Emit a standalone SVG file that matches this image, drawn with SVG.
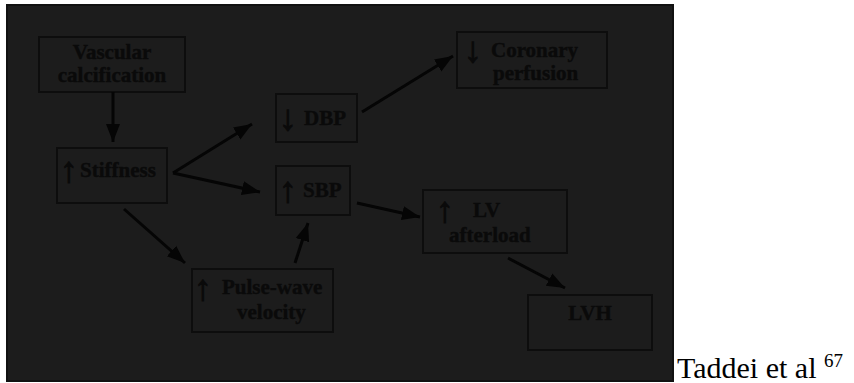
<svg xmlns="http://www.w3.org/2000/svg" width="854" height="383" viewBox="0 0 854 383">
  <style>
    .box { fill: none; stroke: #0d0d0d; stroke-width: 2; }
    .lbl { font-family: "Liberation Serif", "Times New Roman", serif; font-weight: bold; font-size: 21px; fill: #0a0a0a; stroke: #0a0a0a; stroke-width: 0.4; }
    .sym { font-family: "Liberation Serif", "Times New Roman", serif; font-weight: bold; font-size: 36px; fill: #0a0a0a; stroke: #0a0a0a; stroke-width: 1; text-anchor: middle; }
    .mid { text-anchor: middle; }
    .conn { stroke: #050505; stroke-width: 3; fill: none; }
    .cite { font-family: "Liberation Serif", "Times New Roman", serif; font-size: 30px; fill: #000000; }
  </style>
  <defs>
    <marker id="ah" markerUnits="userSpaceOnUse" markerWidth="20" markerHeight="20" viewBox="0 0 20 20" refX="18" refY="10" orient="auto">
      <path d="M0,3 L18,10 L0,17 Z" fill="#050505"/>
    </marker>
  </defs>
  <rect x="0" y="0" width="854" height="383" fill="#ffffff"/>
  <rect x="7" y="5" width="666" height="376" fill="#1c1c1c" stroke="#111111" stroke-width="2"/>

  <g id="vascular">
    <rect class="box" x="39" y="37" width="146" height="55"/>
    <text class="lbl mid" x="112" y="59">Vascular</text>
    <text class="lbl mid" x="112" y="82">calcification</text>
  </g>
  <g id="stiffness">
    <rect class="box" x="57" y="148" width="110" height="55"/>
    <text class="sym" x="69" y="182">↑</text>
    <text class="lbl" x="80" y="177">Stiffness</text>
  </g>
  <g id="dbp">
    <rect class="box" x="276" y="94" width="81" height="48"/>
    <text class="sym" x="288" y="130">↓</text>
    <text class="lbl" x="304" y="125">DBP</text>
  </g>
  <g id="sbp">
    <rect class="box" x="276" y="166" width="74" height="49"/>
    <text class="sym" x="288" y="202">↑</text>
    <text class="lbl" x="303" y="197">SBP</text>
  </g>
  <g id="coronary">
    <rect class="box" x="457" y="32" width="150" height="56"/>
    <text class="sym" x="473" y="62">↓</text>
    <text class="lbl" x="491" y="57">Coronary</text>
    <text class="lbl" x="493" y="80">perfusion</text>
  </g>
  <g id="pulse">
    <rect class="box" x="192" y="269" width="141" height="63"/>
    <text class="sym" x="203" y="300">↑</text>
    <text class="lbl" x="222" y="294">Pulse-wave</text>
    <text class="lbl" x="237" y="319">velocity</text>
  </g>
  <g id="lv">
    <rect class="box" x="423" y="190" width="144" height="63"/>
    <text class="sym" x="445" y="222">↑</text>
    <text class="lbl" x="473" y="217">LV</text>
    <text class="lbl" x="449" y="242">afterload</text>
  </g>
  <g id="lvh">
    <rect class="box" x="528" y="295" width="124" height="55"/>
    <text class="lbl mid" x="590" y="320">LVH</text>
  </g>

  <g id="connectors">
    <line class="conn" x1="113" y1="92" x2="113" y2="142" marker-end="url(#ah)"/>
    <line class="conn" x1="173" y1="173" x2="252" y2="124" marker-end="url(#ah)"/>
    <line class="conn" x1="173" y1="173" x2="260" y2="192" marker-end="url(#ah)"/>
    <line class="conn" x1="124" y1="209" x2="185" y2="263" marker-end="url(#ah)"/>
    <line class="conn" x1="295" y1="263" x2="308" y2="223" marker-end="url(#ah)"/>
    <line class="conn" x1="362" y1="112" x2="453" y2="56" marker-end="url(#ah)"/>
    <line class="conn" x1="357" y1="203" x2="420" y2="217" marker-end="url(#ah)"/>
    <line class="conn" x1="508" y1="258" x2="565" y2="288" marker-end="url(#ah)"/>
  </g>

  <text class="cite" x="677" y="378">Taddei et al <tspan font-size="19" dy="-11">67</tspan></text>
</svg>
